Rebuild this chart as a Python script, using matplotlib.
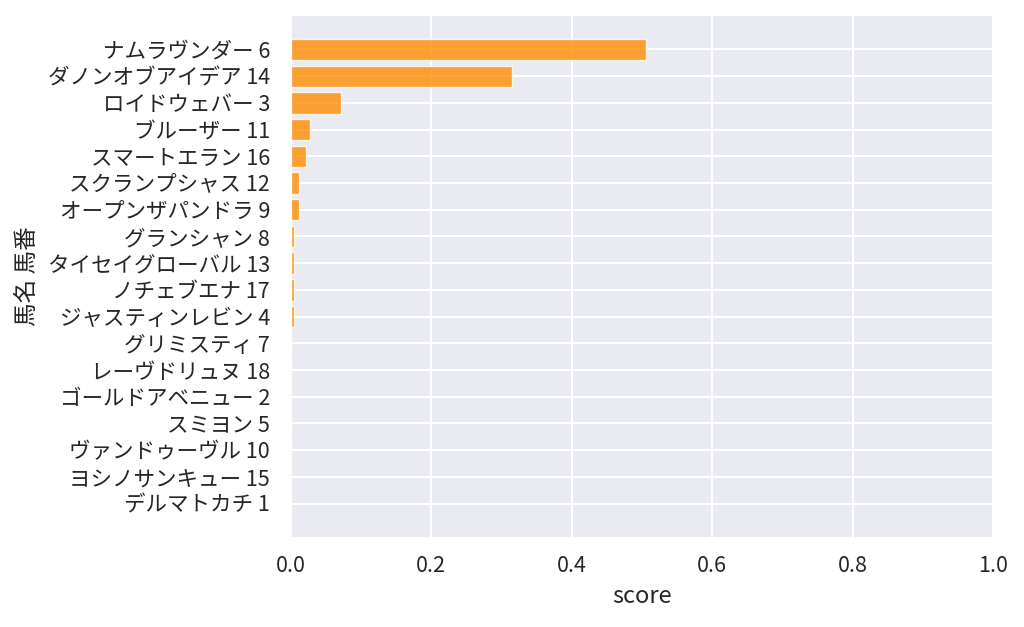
import numpy as np
import matplotlib
matplotlib.use('Agg')
import matplotlib.pyplot as plt
import seaborn as sns

# 馬名 + 馬番 (上から順)
horses = ['ナムラヴンダー 6', 'ダノンオブアイデア 14', 'ロイドウェバー 3', 'ブルーザー 11',
          'スマートエラン 16', 'スクランプシャス 12', 'オープンザパンドラ 9', 'グランシャン 8',
          'タイセイグローバル 13', 'ノチェブエナ 17', 'ジャスティンレビン 4', 'グリミスティ 7',
          'レーヴドリュヌ 18', 'ゴールドアベニュー 2', 'スミヨン 5', 'ヴァンドゥーヴル 10',
          'ヨシノサンキュー 15', 'デルマトカチ 1']
scores = [0.506, 0.315, 0.072, 0.027, 0.021, 0.012, 0.011, 0.004,
          0.004, 0.004, 0.004, 0.0008, 0.0006, 0.0005, 0.0004, 0.0003,
          0.0002, 0.0001]

sns.set_theme(style='darkgrid')
plt.rcParams['font.family'] = ['Noto Sans CJK JP', 'DejaVu Sans']
plt.rcParams['grid.linewidth'] = 1.5

fig, ax = plt.subplots(figsize=(10.24, 6.27), dpi=100)
y = np.arange(len(horses))
ax.barh(y, scores, height=0.8, color='darkorange', alpha=0.8,
        edgecolor='white', linewidth=1.0)
ax.set_yticks(y)
ax.set_yticklabels(horses)
ax.invert_yaxis()
ax.set_xlim(0, 1)
ax.tick_params(axis='y', labelsize=15.5, length=0, pad=15)
ax.tick_params(axis='x', labelsize=15.5, length=0, pad=12)
ax.set_xlabel('score', fontsize=17, labelpad=6)
ax.set_ylabel('馬名 馬番', fontsize=17, labelpad=6)

fig.subplots_adjust(left=0.284, right=0.97, top=0.976, bottom=0.142)
fig.savefig('out.png')
